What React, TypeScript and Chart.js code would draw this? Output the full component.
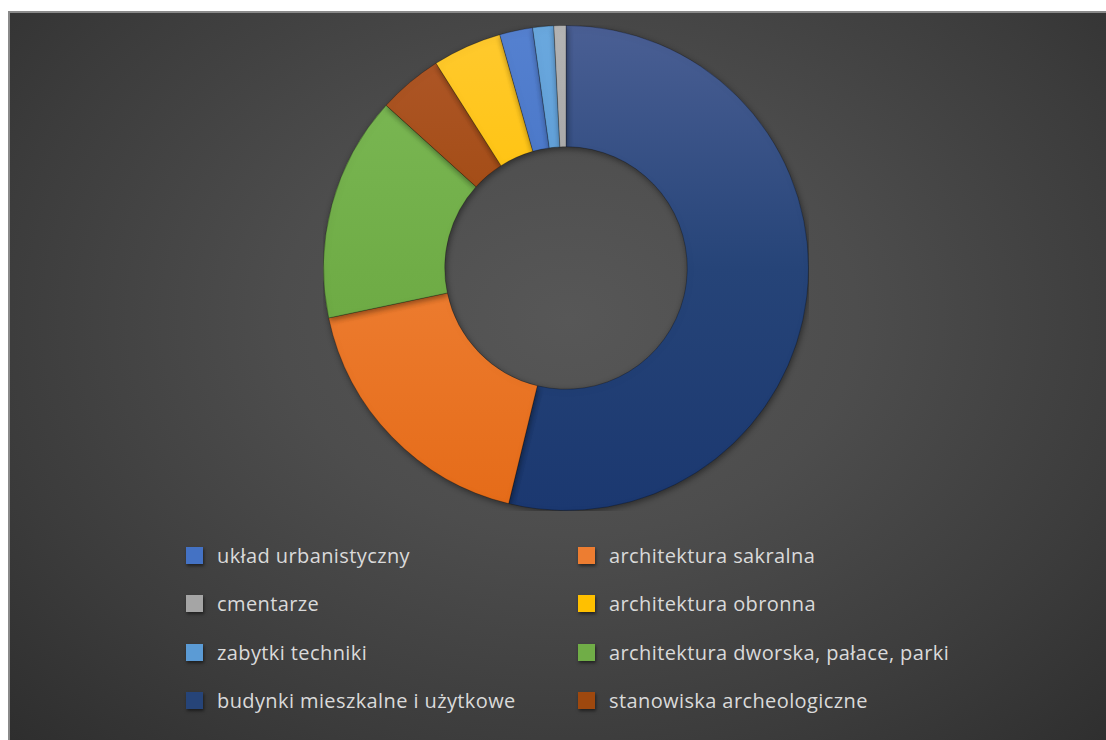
import React, { useEffect, useRef } from "react";
import { Chart, registerables } from "chart.js";

Chart.register(...registerables);

// Slices in clockwise order from 12 o'clock
const categories = [
  "budynki mieszkalne i użytkowe",
  "architektura sakralna",
  "architektura dworska, pałace, parki",
  "stanowiska archeologiczne",
  "architektura obronna",
  "układ urbanistyczny",
  "zabytki techniki",
  "cmentarze",
];
const values = [53.8, 17.9, 15.0, 4.3, 4.6, 2.2, 1.4, 0.8];
const baseColors = ["#264478", "#ED7D31", "#70AD47", "#9E480E", "#FFC000", "#4472C4", "#5B9BD5", "#A5A5A5"];
const lightColors = ["#4a5f94", "#f29055", "#7dba57", "#b0582a", "#ffca30", "#5581d0", "#6aa8de", "#b5b5b5"];
const darkColors = ["#1b3870", "#e56b18", "#65a23c", "#933f08", "#f5b800", "#3a66bb", "#4f90cc", "#8f8f8f"];

// Legend order (2 columns, row-major)
const legendOrder = [
  "układ urbanistyczny",
  "architektura sakralna",
  "cmentarze",
  "architektura obronna",
  "zabytki techniki",
  "architektura dworska, pałace, parki",
  "budynki mieszkalne i użytkowe",
  "stanowiska archeologiczne",
];

const shadowPlugin = {
  id: "shadowPlugin",
  beforeDatasetsDraw(chart: any) {
    const ctx = chart.ctx;
    ctx.save();
    ctx.shadowColor = "rgba(0,0,0,0.45)";
    ctx.shadowBlur = 6;
    ctx.shadowOffsetX = 1;
    ctx.shadowOffsetY = 2;
  },
  afterDatasetsDraw(chart: any) {
    chart.ctx.restore();
  },
};

export default function App() {
  const ref = useRef<HTMLCanvasElement | null>(null);

  useEffect(() => {
    document.body.style.margin = "0";
    const canvas = ref.current!;
    const chart = new Chart(canvas, {
      type: "doughnut",
      data: {
        labels: categories,
        datasets: [
          {
            data: values,
            backgroundColor: (c: any) => {
              const i = c.dataIndex;
              const ch = c.chart;
              const area = ch.chartArea;
              if (!area) return baseColors[i];
              const g = ch.ctx.createLinearGradient(0, area.top, 0, area.bottom);
              g.addColorStop(0, lightColors[i]);
              g.addColorStop(0.5, baseColors[i]);
              g.addColorStop(1, darkColors[i]);
              return g;
            },
            borderWidth: 1,
            borderColor: "rgba(0,0,0,0.25)",
          },
        ],
      },
      options: {
        responsive: false,
        animation: false,
        cutout: "50%",
        layout: { padding: 0 },
        plugins: {
          legend: { display: false },
          tooltip: { enabled: false },
        },
      },
      plugins: [shadowPlugin],
    });
    return () => chart.destroy();
  }, []);

  const colorFor = (name: string) => baseColors[categories.indexOf(name)];

  return (
    <div
      style={{
        position: "absolute",
        left: 8,
        top: 11,
        width: 1098,
        height: 729,
        boxSizing: "border-box",
        borderTop: "2px solid #8a8a8a",
        borderLeft: "2px solid #8a8a8a",
        background:
          "radial-gradient(ellipse 75% 85% at 51% 42%, #575757 0%, #4d4d4d 35%, #3c3c3c 70%, #2c2c2c 100%)",
        overflow: "hidden",
        fontFamily: "'Open Sans', 'Noto Sans', sans-serif",
      }}
    >
      <canvas
        ref={ref}
        width={486}
        height={486}
        style={{ position: "absolute", left: 313, top: 12, width: 486, height: 486 }}
      />
      {legendOrder.map((name, k) => {
        const col = k % 2;
        const row = Math.floor(k / 2);
        const left = col === 0 ? 176 : 568;
        const top = 530 + row * 48.5;
        return (
          <div
            key={name}
            style={{
              position: "absolute",
              left,
              top,
              height: 24,
              display: "flex",
              alignItems: "center",
              color: "#dadada",
              fontSize: 20,
              letterSpacing: 0.4,
              whiteSpace: "nowrap",
            }}
          >
            <span
              style={{
                display: "inline-block",
                width: 17,
                height: 17,
                background: colorFor(name),
                boxShadow: "1px 2px 3px rgba(0,0,0,0.5)",
                marginRight: 14,
              }}
            />
            <span>{name}</span>
          </div>
        );
      })}
    </div>
  );
}
